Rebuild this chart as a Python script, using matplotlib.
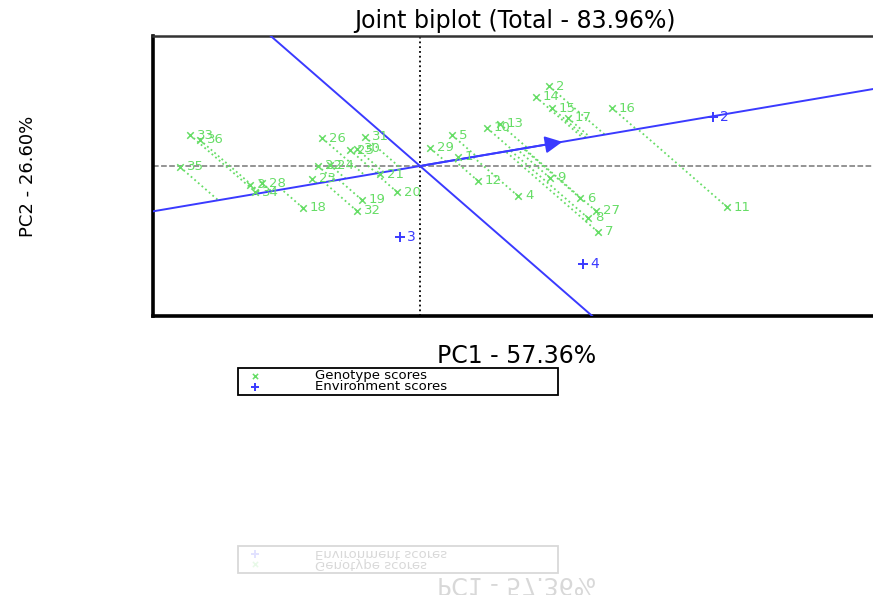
import numpy as np
import matplotlib
matplotlib.use("Agg")
import matplotlib.pyplot as plt

# ---- Data ----
gen_ids = [str(i) for i in range(1, 37)]
gen_pc1 = [0.253, 0.860, -1.133, 0.653, 0.213, 1.067, 1.187, 1.120, 0.867, 0.447,
           2.047, 0.387, 0.533, 0.773, 0.880, 1.280, 0.987, -0.780, -0.387, -0.153,
           -0.267, -0.680, -0.720, -0.600, -0.467, -0.653, 1.173, -1.053, 0.067, -0.420,
           -0.367, -0.420, -1.533, -1.100, -1.600, -1.467]
gen_pc2 = [0.156, 1.386, -0.329, -0.520, 0.537, -0.555, -1.144, -0.901, -0.208, 0.659,
           -0.711, -0.260, 0.728, 1.196, 1.005, 1.005, 0.832, -0.728, -0.589, -0.451,
           -0.139, 0.000, -0.225, 0.017, 0.277, 0.485, -0.780, -0.295, 0.312, 0.295,
           0.503, -0.780, 0.537, -0.451, -0.017, 0.451]
env_ids = ["2", "3", "4"]
env_pc1 = [1.953, -0.133, 1.087]
env_pc2 = [0.849, -1.230, -1.698]
aec = [0.967, 0.427]          # average environment coordinate (arrow)

title = "Joint biplot (Total - 83.96%)"
xlab = "PC1 - 57.36%"
ylab = "PC2 - 26.60%"

green = "#66dd66"
blue = "#3a3aff"

plt.rcParams["font.family"] = ["DejaVu Sans"]

fig = plt.figure(figsize=(8.73, 5.95), dpi=100)
ax = fig.add_axes([153 / 873, 1 - 316 / 595, (876 - 153) / 873, (316 - 36) / 595])
ax.set_xlim(-1.78, 3.04)
ax.set_ylim(-2.6, 2.253)
ax.set_xticks([])
ax.set_yticks([])

ax.axhline(0, color="#777777", ls="--", lw=1.1, zorder=1)
ax.axvline(0, color="black", ls=":", lw=1.3, zorder=1)

# AEC abscissa and ordinate
u = np.array(aec) / np.hypot(*aec)
ax.axline((0, 0), (aec[0], aec[1]), color=blue, lw=1.4, zorder=3)
ax.axline((0, 0), (-aec[1], aec[0]), color=blue, lw=1.4, zorder=3)
ax.annotate("", xy=(aec[0], aec[1]), xytext=(0, 0),
            arrowprops=dict(arrowstyle="-|>", color=blue, lw=1.4, mutation_scale=26),
            zorder=4)

# genotype projections onto the AEC line
g = np.column_stack([gen_pc1, gen_pc2])
proj = (g @ u)[:, None] * u
for (x, y), (px, py) in zip(g, proj):
    ax.plot([x, px], [y, py], color=green, ls=":", lw=1.3, zorder=2)

ax.scatter(gen_pc1, gen_pc2, marker="x", s=22, color=green, linewidths=1.1,
           zorder=5, label="Genotype scores")
for lab, x, y in zip(gen_ids, gen_pc1, gen_pc2):
    ax.annotate(lab, (x, y), xytext=(5, 0), textcoords="offset points",
                color=green, fontsize=9.5, va="center", zorder=5)

ax.scatter(env_pc1, env_pc2, marker="+", s=50, color=blue, linewidths=1.4,
           zorder=6, label="Environment scores")
for lab, x, y in zip(env_ids, env_pc1, env_pc2):
    ax.annotate(lab, (x, y), xytext=(5, 0), textcoords="offset points",
                color=blue, fontsize=10, va="center", zorder=6)

for side in ["left", "bottom"]:
    ax.spines[side].set_linewidth(2.6)
    ax.spines[side].set_color("black")
ax.spines["top"].set_linewidth(1.8)
ax.spines["top"].set_color("#333333")
ax.spines["right"].set_visible(False)

ax.set_title(title, fontsize=17, pad=6)
ax.set_xlabel(xlab, fontsize=17)
ax.xaxis.set_label_coords(0.503, -0.100)
ax.set_ylabel(ylab, fontsize=13)
ax.yaxis.set_label_coords(-0.160, 0.50)

leg = fig.legend(loc="upper left", bbox_to_anchor=(238 / 873, 1 - 368 / 595, 320 / 873, 0),
                 mode="expand", borderaxespad=0, fontsize=9.5, labelspacing=-0.15,
                 borderpad=0.1, handlelength=2.4, handletextpad=3.3,
                 fancybox=False, framealpha=1, edgecolor="black", markerscale=0.8)
leg.get_frame().set_linewidth(1.3)

# faint mirror image of the label/legend strip at the bottom
fig.canvas.draw()
buf = np.asarray(fig.canvas.buffer_rgba())[346:400, :, :3].astype(float) / 255
ghost = 1 - 0.15 * (1 - buf[::-1])
fig.figimage(ghost, xo=0, yo=0, origin="upper", zorder=0)

fig.savefig("out.png", dpi=100)
